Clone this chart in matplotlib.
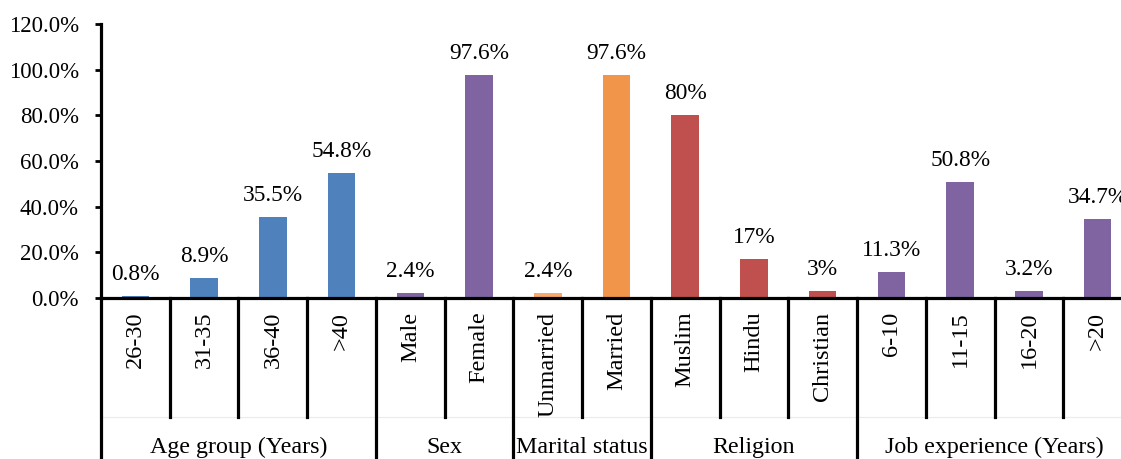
import matplotlib
matplotlib.use("Agg")
import matplotlib.pyplot as plt
from matplotlib.ticker import PercentFormatter

plt.rcParams['font.family'] = ['Liberation Serif', 'DejaVu Serif']

# categorias y valores
categorias = ['26-30', '31-35', '36-40', '>40', 'Male', 'Female', 'Unmarried', 'Married',
              'Muslim', 'Hindu', 'Christian', '6-10', '11-15', '16-20', '>20']
valores = [0.8, 8.9, 35.5, 54.8, 2.4, 97.6, 2.4, 97.6, 80, 17, 3, 11.3, 50.8, 3.2, 34.7]
etiquetas = ['0.8%', '8.9%', '35.5%', '54.8%', '2.4%', '97.6%', '2.4%', '97.6%',
             '80%', '17%', '3%', '11.3%', '50.8%', '3.2%', '34.7%']
colores = ['#4F81BD'] * 4 + ['#8064A2'] * 2 + ['#F8AA6C', '#F0954A'] + ['#C0504D'] * 3 + ['#8064A2'] * 4

grupos = ['Age group (Years)', 'Sex', 'Marital status', 'Religion', 'Job experience (Years)']
tam_grupos = [4, 2, 2, 3, 4]

fig = plt.figure(figsize=(11.21, 4.59), dpi=100)
ax = fig.add_axes([101 / 1121, 161 / 459, 1031 / 1121, 274 / 459])

x = list(range(len(categorias)))
ax.bar(x, valores, width=0.4, color=colores, zorder=2)

# etiquetas de datos
for xi, v, t in zip(x, valores, etiquetas):
    ax.annotate(t, (xi, v), xytext=(0, 11.5), textcoords='offset points',
                ha='center', va='baseline', fontsize=16.8)

ax.set_xlim(-0.5, len(categorias) - 0.5)
ax.set_ylim(0, 120)
ax.set_yticks(range(0, 121, 20))
ax.yaxis.set_major_formatter(PercentFormatter(decimals=1))
ax.tick_params(axis='y', direction='out', length=4, width=2, pad=12, labelsize=16.5)
ax.set_xticks([])

for s in ['top', 'right']:
    ax.spines[s].set_visible(False)
ax.spines['left'].set_linewidth(2.3)
ax.spines['bottom'].set_linewidth(2.3)
ax.spines['bottom'].set_zorder(3)

trans = ax.get_xaxis_transform()
y_div = -(417 - 298) / 274
y_fondo = -0.7

# etiquetas de categoria (verticales)
for xi, c in zip(x, categorias):
    ax.text(xi, -0.05, c, rotation=90, ha='center', va='top', fontsize=17.5, transform=trans)

# lineas divisorias
limites_grupo = [-0.5]
acum = -0.5
for n in tam_grupos:
    acum += n
    limites_grupo.append(acum)

for b in [i - 0.5 for i in range(len(categorias) + 1)]:
    if b in limites_grupo:
        ax.plot([b, b], [0, y_fondo], color='black', lw=2.3, transform=trans, clip_on=False)
    else:
        ax.plot([b, b], [0, y_div], color='black', lw=2.3, transform=trans, clip_on=False)

ax.plot([-0.5, len(categorias) - 0.5], [y_div, y_div], color='#ebebeb', lw=0.8,
        transform=trans, clip_on=False, zorder=0)

# etiquetas de grupo
for g, a, b in zip(grupos, limites_grupo[:-1], limites_grupo[1:]):
    ax.text((a + b) / 2, -(453 - 298) / 274, g, ha='center', va='baseline',
            fontsize=17.3, transform=trans)

fig.savefig('out.png', dpi=100)
